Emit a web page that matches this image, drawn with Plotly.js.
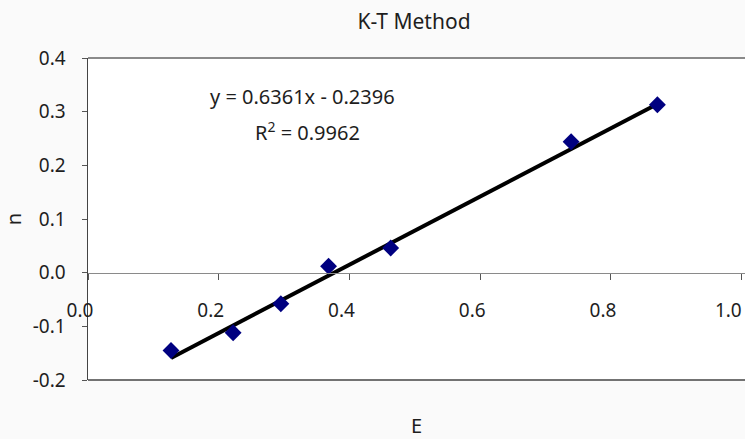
<!DOCTYPE html>
<html>
<head>
<meta charset="utf-8">
<script src="https://cdn.plot.ly/plotly-3.0.1.min.js"></script>
<style>html,body{margin:0;padding:0;background:#fafafa;}#chart{width:745px;height:439px;}</style>
</head>
<body>
<div id="chart"></div>
<script>
// Data
const E_values = [0.127, 0.222, 0.295, 0.368, 0.463, 0.739, 0.871];
const n_values = [-0.145, -0.112, -0.058, 0.012, 0.046, 0.244, 0.313];
// Linear trendline coefficients as printed on the chart
const trendSlope = 0.6361;
const trendIntercept = -0.2396;
const rSquared = 0.9962;
// Tick labels
const xTickVals = [0, 0.2, 0.4, 0.6, 0.8, 1.0];
const xTickText = ['0.0', '0.2', '0.4', '0.6', '0.8', '1.0\u2007'];
const yTickVals = [-0.2, -0.1, 0.0, 0.1, 0.2, 0.3, 0.4];
const yTickText = ['-0.2', '-0.1', '0.0', '0.1', '0.2', '0.3', '0.4'];

const FONT = '"Noto Sans", "Open Sans", sans-serif';
const xMin = Math.min(...E_values), xMax = Math.max(...E_values);
const trendX = [xMin, xMax];
const trendY = trendX.map(x => trendSlope * x + trendIntercept);

const yRange = [-0.2, 0.4];
const zeroPos = (0 - yRange[0]) / (yRange[1] - yRange[0]);

const traces = [
  {
    x: trendX, y: trendY, type: 'scatter', mode: 'lines',
    line: {color: '#000000', width: 4}, hoverinfo: 'skip', showlegend: false
  },
  {
    x: E_values, y: n_values, type: 'scatter', mode: 'markers',
    marker: {symbol: 'diamond', size: 13, color: '#000080'}, showlegend: false
  }
];

const layout = {
  width: 745, height: 439,
  margin: {l: 88, r: 0, t: 58, b: 59},
  paper_bgcolor: '#fafafa',
  plot_bgcolor: '#ffffff',
  font: {family: FONT, size: 19, color: '#1e1e1e'},
  showlegend: false,
  title: {
    text: 'K-T Method', font: {family: FONT, size: 21, color: '#1e1e1e'},
    x: 414 / 745, xanchor: 'center', xref: 'container',
    y: 1 - 22 / 439, yanchor: 'middle', yref: 'container'
  },
  xaxis: {
    range: [0, 1.005], tickvals: xTickVals, ticktext: xTickText,
    anchor: 'free', position: zeroPos,
    showline: true, linecolor: '#8a8a8a', linewidth: 1.5,
    ticks: 'outside', ticklen: 6, tickcolor: '#555555', tickwidth: 1,
    ticklabelstandoff: 14, ticklabelshift: -8, ticklabeloverflow: 'allow',
    showgrid: false, zeroline: false,
    tickfont: {family: FONT, size: 19, color: '#1e1e1e'},
    title: {text: 'E', font: {family: FONT, size: 20, color: '#1e1e1e'}, standoff: 98}
  },
  yaxis: {
    range: yRange, tickvals: yTickVals, ticktext: yTickText,
    showline: true, linecolor: '#444444', linewidth: 1.5,
    ticks: 'outside', ticklen: 5, tickcolor: '#555555', tickwidth: 1,
    ticklabelstandoff: 12,
    showgrid: false, zeroline: false,
    tickfont: {family: FONT, size: 19, color: '#1e1e1e'},
    title: {text: 'n', font: {family: FONT, size: 20, color: '#1e1e1e'}, standoff: 20}
  },
  shapes: [
    {type: 'line', xref: 'paper', yref: 'paper', x0: 0, x1: 1, y0: 1, y1: 1,
     line: {color: '#8a8a8a', width: 2}},
    {type: 'line', xref: 'paper', yref: 'paper', x0: 0, x1: 1, y0: 0, y1: 0,
     line: {color: '#444444', width: 1.5}}
  ],
  annotations: [
    {text: 'y = ' + trendSlope.toFixed(4) + 'x - ' + Math.abs(trendIntercept).toFixed(4),
     xref: 'paper', yref: 'paper', x: (302 - 88) / 657, y: (380 - 97) / 322,
     xanchor: 'center', yanchor: 'middle', showarrow: false,
     font: {family: FONT, size: 20, color: '#1e1e1e'}},
    {text: 'R<sup>2</sup> = ' + rSquared.toFixed(4),
     xref: 'paper', yref: 'paper', x: (307 - 88) / 657, y: (380 - 131) / 322,
     xanchor: 'center', yanchor: 'middle', showarrow: false,
     font: {family: FONT, size: 20, color: '#1e1e1e'}}
  ]
};

Plotly.newPlot('chart', traces, layout, {displayModeBar: false, staticPlot: true});
</script>
</body>
</html>
